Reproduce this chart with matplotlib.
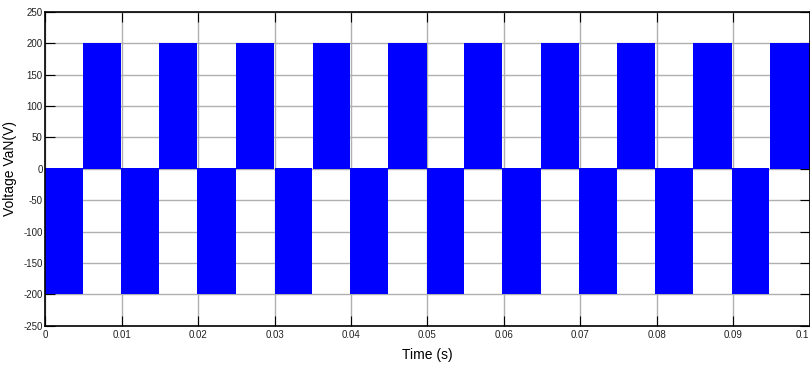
import matplotlib
matplotlib.use("Agg")
from matplotlib import pyplot as plt
import numpy as np

# block edges (s)
negStarts = [0.0, 0.0099, 0.0198, 0.0300, 0.0399, 0.0499, 0.0598, 0.0698, 0.0798, 0.0898]
negEnds = [0.0049, 0.0149, 0.0249, 0.0349, 0.0449, 0.0548, 0.0649, 0.0748, 0.0847, 0.0947]
posStarts = [0.0049, 0.0149, 0.0249, 0.0350, 0.0449, 0.0548, 0.0649, 0.0748, 0.0847, 0.0948]
posEnds = [0.0099, 0.0198, 0.0299, 0.0399, 0.0499, 0.0598, 0.0698, 0.0798, 0.0898, 0.1]
posLevel = 200
negLevel = -200
negBlip = 2   # tiny positive overshoot on top of negative blocks

xTicks = [0, 0.01, 0.02, 0.03, 0.04, 0.05, 0.06, 0.07, 0.08, 0.09, 0.1]
xTickLabels = ["0", "0.01", "0.02", "0.03", "0.04", "0.05", "0.06", "0.07", "0.08", "0.09", "0.1"]
yTicks = [-250, -200, -150, -100, -50, 0, 50, 100, 150, 200, 250]


def plot():
    plt.rcParams["axes.unicode_minus"] = False
    fig = plt.figure(figsize=(8.1, 3.65), dpi=100)
    ax = fig.add_axes([45.3 / 810, 1 - 325.7 / 365, (809.5 - 45.3) / 810, (325.7 - 12) / 365])

    for s, e in zip(negStarts, negEnds):
        ax.fill_between([s, e], negBlip, negLevel, color="#0000ff", lw=0, zorder=3)
    for s, e in zip(posStarts, posEnds):
        ax.fill_between([s, e], 0, posLevel, color="#0000ff", lw=0, zorder=3)

    ax.set_xlim(0, 0.1)
    ax.set_ylim(-250, 250)
    ax.set_xticks(xTicks)
    ax.set_xticklabels(xTickLabels)
    ax.set_yticks(yTicks)
    ax.set_yticklabels([str(v) for v in yTicks])
    ax.grid(True, color="#b0b0b0", lw=1, ls="-", zorder=0)
    ax.set_axisbelow(True)

    tickFont = ["Liberation Sans Narrow", "Liberation Sans", "DejaVu Sans"]
    for lab in ax.get_xticklabels() + ax.get_yticklabels():
        lab.set_family(tickFont)
        lab.set_fontsize(7)
        lab.set_color("#222222")
    # last label sits on the figure edge, keep it inside
    ax.get_xticklabels()[-1].set_horizontalalignment("right")
    ax.tick_params(direction="in", length=7, width=0.8, top=True, right=True, pad=3)
    ax.tick_params(axis="y", pad=2)

    for sp in ax.spines.values():
        sp.set_linewidth(1.2)
        sp.set_zorder(5)

    ax.set_xlabel("Time (s)", family=["Liberation Sans", "DejaVu Sans"], fontsize=10, labelpad=6)
    ax.set_ylabel("Voltage VaN(V)", family=["Liberation Sans", "DejaVu Sans"], fontsize=10)
    ax.yaxis.set_label_coords(-0.037, 0.5)

    fig.savefig("out.png", dpi=100)


if __name__ == "__main__":
    plot()
